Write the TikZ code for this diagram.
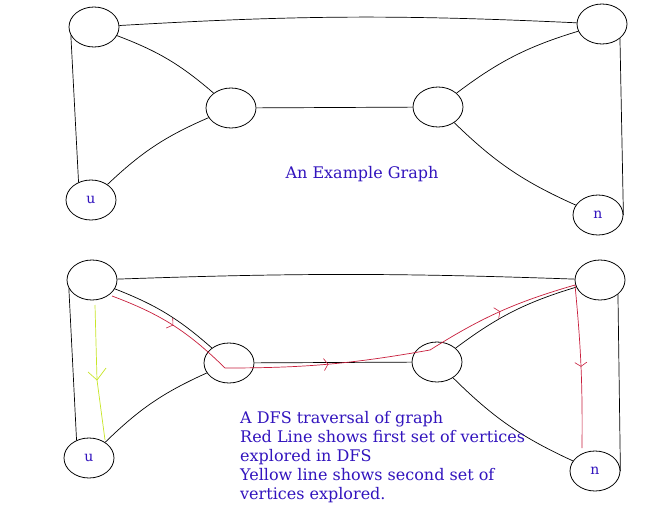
\documentclass[tikz,border=0pt]{standalone}
\usepackage{fontspec}
\setmainfont{DejaVu Serif}
\usetikzlibrary{decorations.markings,shapes.geometric}
\definecolor{lbl}{RGB}{50,20,190}
\definecolor{redp}{RGB}{200,30,60}
\definecolor{yel}{RGB}{200,230,40}
\tikzset{
 v/.style={draw,thick,ellipse,minimum width=50pt,minimum height=40pt,inner sep=0pt,font=\fontsize{14}{16}\selectfont,text=lbl},
 e/.style={draw,line width=0.7pt},
 txt/.style={text=lbl,font=\fontsize{16}{19}\selectfont,align=left},
 rp/.style={draw=redp,line width=0.7pt,postaction={decorate},decoration={markings,mark=at position 0.5 with {\draw[redp,line width=0.6pt] (-4pt,6pt)--(0,0)--(-4pt,-6pt);}}},
}
\begin{document}
\begin{tikzpicture}[x=1pt,y=-1pt]
\useasboundingbox[fill=white] (0,0) rectangle (670,525);
% top graph
\node[v] (a) at (94,27) {};
\node[v] (b) at (602,24) {};
\node[v] (c) at (231,108) {};
\node[v] (d) at (438,107) {};
\node[v] (u) at (91,200) {u};
\node[v] (n) at (598,215) {n};
\draw[e] (a) to[bend left=3] (b);
\draw[e] (a.200) -- (u.125);
\draw[e] (a) to[bend left=10] (c);
\draw[e] (c) to[bend right=10] (u);
\draw[e] (c) -- (d);
\draw[e] (d) to[bend left=10] (b);
\draw[e] (b.south east) -- (n.east);
\draw[e] (d) to[bend right=10] (n);
\node[txt] (t1) at (362,174) {An Example Graph};
% bottom graph
\node[v] (a2) at (92,280) {};
\node[v] (b2) at (600,280) {};
\node[v] (c2) at (229,363) {};
\node[v] (d2) at (437,362) {};
\node[v] (u2) at (89,458) {u};
\node[v] (n2) at (595,471) {n};
\draw[e] (a2) to[bend left=2] (b2);
\draw[e] (a2.200) -- (u2.125);
\draw[e] (a2) to[bend left=10] (c2);
\draw[e] (c2) to[bend right=10] (u2);
\draw[e] (c2) -- (d2);
\draw[e] (d2) to[bend left=10] (b2);
\draw[e] (b2.south east) -- (n2.east);
\draw[e] (d2) to[bend right=10] (n2);
% red DFS path
\coordinate (r0) at (112,296);
\coordinate (r1) at (225,368);
\coordinate (r2) at (430,350);
\coordinate (r3) at (575,285);
\coordinate (r4) at (582,448);
\draw[rp] (r0) to[bend left=12] (r1);
\draw[rp] (r1) to[bend right=5] (r2);
\draw[rp] (r2) to[bend left=8] (r3);
\draw[rp] (r3) to[bend left=3] (r4);
% yellow path
\coordinate (y0) at (95,305);
\coordinate (y1) at (105,440);
\draw[draw=yel,line width=0.7pt] (y0) -- (97,380) -- (y1);
\draw[draw=yel,line width=0.7pt] (88,372)--(97,380)--(106,368);
\node[txt,anchor=north west,inner sep=0pt] (t2) at (240,411) {A DFS traversal of graph\\Red Line shows first set of vertices\\explored in DFS\\Yellow line shows second set of\\vertices explored.};
\end{tikzpicture}
\end{document}
